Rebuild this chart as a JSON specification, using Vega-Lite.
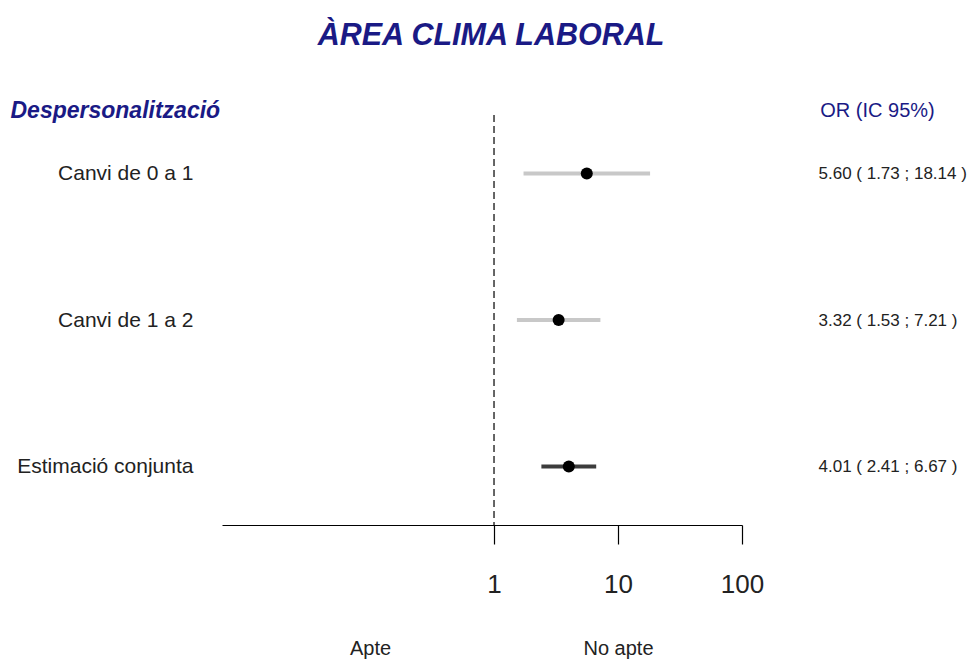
{
  "$schema": "https://vega.github.io/schema/vega-lite/v6.json",
  "width": 520,
  "height": 410,
  "autosize": "none",
  "padding": {"left": 222, "top": 115, "right": 235, "bottom": 135},
  "background": "white",
  "config": {"view": {"stroke": null}, "axis": {"grid": false}},
  "title": {
    "text": "ÀREA CLIMA LABORAL",
    "font": "Liberation Sans",
    "fontSize": 30.5,
    "fontStyle": "italic",
    "fontWeight": "bold",
    "color": "#1a1a85",
    "anchor": "middle",
    "frame": "group",
    "dx": 9,
    "offset": 48
  },
  "data": {
    "values": [
      {"label": "Canvi de 0 a 1", "ortext": "5.60 ( 1.73 ; 18.14 )", "or": 5.60, "lo": 1.73, "hi": 18.14, "grp": "estudi"},
      {"label": "Canvi de 1 a 2", "ortext": "3.32 ( 1.53 ; 7.21 )", "or": 3.32, "lo": 1.53, "hi": 7.21, "grp": "estudi"},
      {"label": "Estimació conjunta", "ortext": "4.01 ( 2.41 ; 6.67 )", "or": 4.01, "lo": 2.41, "hi": 6.67, "grp": "conjunta"}
    ]
  },
  "layer": [
    {
      "data": {"values": [{"ref": 1}]},
      "mark": {"type": "rule", "strokeDash": [7, 4], "color": "#333333", "strokeWidth": 1.5},
      "encoding": {
        "x": {
          "field": "ref",
          "type": "quantitative",
          "scale": {"type": "log", "domain": [0.0064, 100], "nice": false},
          "axis": {
            "orient": "bottom",
            "values": [0.1, 10],
            "labelExpr": "datum.value < 1 ? 'Apte' : 'No apte'",
            "domain": false,
            "ticks": false,
            "labelFont": "Liberation Sans",
            "labelFontSize": 20,
            "labelColor": "#222222",
            "labelPadding": 113,
            "labelFlush": false,
            "labelOverlap": false,
            "title": null
          }
        }
      }
    },
    {
      "layer": [
        {
          "mark": {"type": "rule", "strokeWidth": 4},
          "encoding": {
            "y": {
              "field": "label",
              "type": "nominal",
              "sort": null,
              "scale": {"type": "point", "padding": 0.4},
              "axis": {
                "orient": "left",
                "ticks": false,
                "domain": false,
                "labelFont": "Liberation Sans",
                "labelFontSize": 21,
                "labelColor": "#222222",
                "labelPadding": 29,
                "labelLimit": 300,
                "title": "Despersonalització",
                "titleFont": "Liberation Sans",
                "titleFontSize": 23,
                "titleFontStyle": "italic",
                "titleFontWeight": "bold",
                "titleColor": "#1a1a85",
                "titleAngle": 0,
                "titleAlign": "left",
                "titleBaseline": "middle",
                "titleX": -212,
                "titleY": -5
              }
            },
            "x": {
              "field": "lo",
              "type": "quantitative",
              "scale": {"type": "log", "domain": [0.0064, 100], "nice": false},
              "axis": {
                "orient": "bottom",
                "values": [1, 10, 100],
                "format": "d",
                "domainColor": "#000000",
                "domainWidth": 1.2,
                "tickColor": "#000000",
                "tickWidth": 1.2,
                "tickSize": 19,
                "labelFont": "Liberation Sans",
                "labelFontSize": 26,
                "labelColor": "#222222",
                "labelPadding": 27,
                "labelFlush": false,
                "labelOverlap": false,
                "title": null
              }
            },
            "x2": {"field": "hi"},
            "color": {
              "field": "grp",
              "type": "nominal",
              "scale": {"domain": ["estudi", "conjunta"], "range": ["#c8c8c8", "#3c3c3c"]},
              "legend": null
            }
          }
        },
        {
          "mark": {"type": "point", "filled": true, "shape": "circle", "size": 145, "opacity": 1},
          "encoding": {
            "y": {
              "field": "ortext",
              "type": "nominal",
              "sort": null,
              "scale": {"type": "point", "padding": 0.4},
              "axis": {
                "orient": "right",
                "ticks": false,
                "domain": false,
                "labelFont": "Liberation Sans",
                "labelFontSize": 17,
                "labelColor": "#222222",
                "labelAlign": "left",
                "labelPadding": 76,
                "labelLimit": 300,
                "title": "OR (IC 95%)",
                "titleFont": "Liberation Sans",
                "titleFontSize": 20,
                "titleFontWeight": "normal",
                "titleColor": "#1a1a85",
                "titleAngle": 0,
                "titleAlign": "center",
                "titleBaseline": "middle",
                "titleX": 135,
                "titleY": -5
              }
            },
            "x": {"field": "or", "type": "quantitative"},
            "color": {"value": "#000000"}
          }
        }
      ],
      "resolve": {"scale": {"y": "independent"}, "axis": {"y": "independent"}}
    }
  ],
  "resolve": {"scale": {"x": "independent", "y": "independent"}, "axis": {"x": "independent"}}
}
